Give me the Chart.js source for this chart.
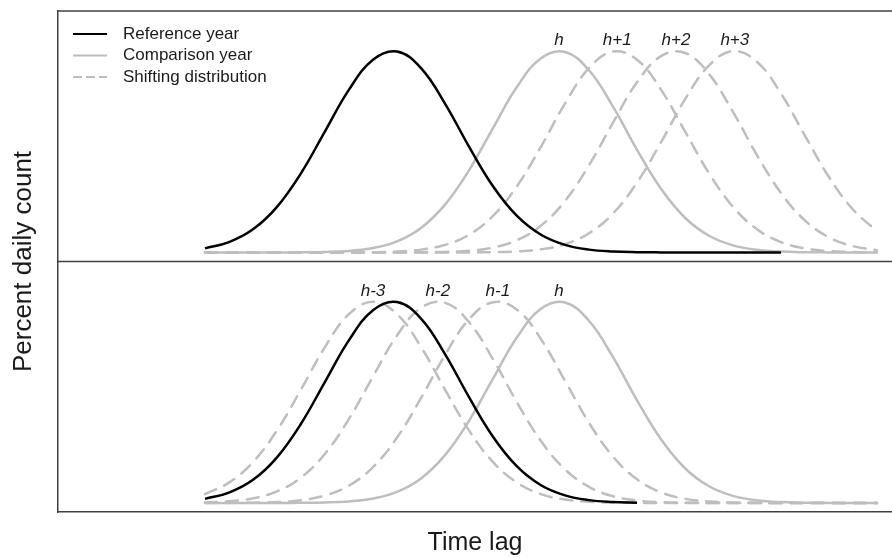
<!DOCTYPE html>
<html>
<head>
<meta charset="utf-8">
<title>Time lag</title>
<script src="https://cdn.jsdelivr.net/npm/chart.js@4.4.1/dist/chart.umd.min.js"></script>
<style>
  html, body { margin: 0; padding: 0; background: #fff; }
</style>
</head>
<body>
<canvas id="lagChart" width="892" height="558"></canvas>
<script>
// time lag grid (days) shared by every curve
const lagDays = [0, 4, 8, 12, 16, 20, 24, 28, 32, 36, 40, 44, 48, 52, 56, 60, 64, 68, 72, 76, 80, 84, 88, 92, 96, 100, 104, 108, 112];

// percent daily count
const referenceYear = [0.072, 0.183, 0.409, 0.807, 1.401, 2.141, 2.879, 3.409, 3.553, 3.260, 2.633, 1.872, 1.172, 0.646, 0.313, 0.134, 0.050, 0.017, 0.005, 0.001, 0, 0, 0, 0, 0];
const comparisonYear = [0, 0, 0, 0.001, 0.002, 0.008, 0.027, 0.077, 0.195, 0.433, 0.845, 1.453, 2.198, 2.929, 3.435, 3.546, 3.222, 2.578, 1.816, 1.126, 0.614, 0.295, 0.125, 0.046, 0.015, 0.004, 0.001, 0, 0];
const shiftMinus3 = [0.157, 0.359, 0.723, 1.284, 2.006, 2.759, 3.340, 3.560, 3.340, 2.759, 2.006, 1.284, 0.723, 0.359, 0.157, 0.060, 0.020, 0.006, 0.002, 0, 0, 0, 0, 0, 0, 0, 0, 0, 0];
const shiftMinus2 = [0.009, 0.029, 0.081, 0.204, 0.449, 0.871, 1.487, 2.237, 2.961, 3.450, 3.540, 3.197, 2.541, 1.778, 1.095, 0.594, 0.284, 0.119, 0.044, 0.014, 0.004, 0.001, 0, 0, 0, 0, 0, 0, 0];
const shiftMinus1 = [0, 0.001, 0.005, 0.016, 0.049, 0.131, 0.307, 0.635, 1.156, 1.853, 2.615, 3.248, 3.551, 3.418, 2.896, 2.160, 1.418, 0.820, 0.417, 0.187, 0.074, 0.026, 0.008, 0.002, 0, 0, 0, 0, 0];
const shiftPlus1 = [0, 0, 0, 0, 0, 0, 0.001, 0.005, 0.017, 0.050, 0.134, 0.313, 0.646, 1.172, 1.872, 2.633, 3.260, 3.553, 3.409, 2.879, 2.141, 1.401, 0.807, 0.409, 0.183, 0.072, 0.025, 0.008, 0.002];
const shiftPlus2 = [0, 0, 0, 0, 0, 0, 0, 0, 0.001, 0.003, 0.010, 0.031, 0.087, 0.217, 0.474, 0.911, 1.541, 2.295, 3.009, 3.472, 3.528, 3.156, 2.485, 1.722, 1.051, 0.565, 0.267, 0.111, 0.041];
const shiftPlus3 = [0, 0, 0, 0, 0, 0, 0, 0, 0, 0, 0, 0.001, 0.006, 0.019, 0.056, 0.146, 0.339, 0.689, 1.235, 1.948, 2.706, 3.307, 3.559, 3.371, 2.811, 2.063, 1.333, 0.758, 0.380];

// lower panel only shows the reference year up to day 72
const refBottomDays = 72;

// every distribution tops out at the same height
const peakPercent = 3.56;
const comparisonLabel = 'h';
const comparisonPeak = 59;
const topShiftLabels = ['h+1', 'h+2', 'h+3'];
const topShiftPeaks = [68.7, 78.5, 88.3];
const bottomShiftLabels = ['h-3', 'h-2', 'h-1'];
const bottomShiftPeaks = [28, 38.8, 48.8];

const legendLabels = ['Reference year', 'Comparison year', 'Shifting distribution'];

const FONT = '"Liberation Sans", Arial, Helvetica, sans-serif';
const TEXT = '#1a1a1a';
const FRAME = '#404040';
const GREY = '#bebebe';

const solidRef = { borderColor: '#000000', borderWidth: 2.5 };
const solidGrey = { borderColor: GREY, borderWidth: 2.5 };
const dashedGrey = { borderColor: GREY, borderWidth: 2.5, borderDash: [12, 9], borderCapStyle: 'round' };
const legendStyles = [
  { color: '#000000', dash: [] },
  { color: GREY, dash: [] },
  { color: GREY, dash: [9, 4] }
];

const toPoints = values => values.map((v, i) => ({ x: lagDays[i], y: v }));

const datasets = [
  { label: 'Reference year', data: toPoints(referenceYear), yAxisID: 'yTop', ...solidRef },
  { label: 'Reference year', data: toPoints(referenceYear).filter(p => p.x <= refBottomDays), yAxisID: 'yBottom', ...solidRef },
  { label: 'Comparison year', data: toPoints(comparisonYear), yAxisID: 'yTop', peakLabel: comparisonLabel, peakDay: comparisonPeak, ...solidGrey },
  { label: 'Comparison year', data: toPoints(comparisonYear), yAxisID: 'yBottom', peakLabel: comparisonLabel, peakDay: comparisonPeak, ...solidGrey }
];

[shiftPlus1, shiftPlus2, shiftPlus3].forEach((values, i) => {
  datasets.push({ label: 'Shifting distribution', data: toPoints(values), yAxisID: 'yTop',
    peakLabel: topShiftLabels[i], peakDay: topShiftPeaks[i], ...dashedGrey });
});
[shiftMinus3, shiftMinus2, shiftMinus1].forEach((values, i) => {
  datasets.push({ label: 'Shifting distribution', data: toPoints(values), yAxisID: 'yBottom',
    peakLabel: bottomShiftLabels[i], peakDay: bottomShiftPeaks[i], ...dashedGrey });
});

// outer top edge and the line between the two panels
const panelFrame = {
  id: 'panelFrame',
  afterDraw(chart) {
    const { ctx, chartArea, scales } = chart;
    ctx.save();
    ctx.strokeStyle = FRAME;
    ctx.lineWidth = 1.5;
    ctx.beginPath();
    ctx.moveTo(chartArea.left, chartArea.top);
    ctx.lineTo(chartArea.right, chartArea.top);
    ctx.moveTo(chartArea.left, scales.yTop.bottom);
    ctx.lineTo(chartArea.right, scales.yTop.bottom);
    ctx.stroke();
    ctx.restore();
  }
};

// italic h, h+1 ... above each curve's peak
const peakLabels = {
  id: 'peakLabels',
  afterDatasetsDraw(chart) {
    const { ctx, scales } = chart;
    ctx.save();
    ctx.font = 'italic 17px ' + FONT;
    ctx.fillStyle = TEXT;
    ctx.textAlign = 'center';
    ctx.textBaseline = 'alphabetic';
    chart.data.datasets.forEach(ds => {
      if (!ds.peakLabel) return;
      const x = scales.x.getPixelForValue(ds.peakDay);
      const y = scales[ds.yAxisID].getPixelForValue(peakPercent);
      ctx.fillText(ds.peakLabel, x, y - 6);
    });
    ctx.restore();
  }
};

// small legend in the upper left corner of the top panel
const insetLegend = {
  id: 'insetLegend',
  afterDraw(chart) {
    const { ctx, chartArea } = chart;
    ctx.save();
    ctx.font = '17px ' + FONT;
    ctx.textBaseline = 'middle';
    ctx.textAlign = 'left';
    legendLabels.forEach((label, i) => {
      const y = chartArea.top + 23 + i * 21.5;
      const x = chartArea.left + 15;
      ctx.strokeStyle = legendStyles[i].color;
      ctx.lineWidth = 2;
      ctx.setLineDash(legendStyles[i].dash);
      ctx.beginPath();
      ctx.moveTo(x, y);
      ctx.lineTo(x + 34, y);
      ctx.stroke();
      ctx.setLineDash([]);
      ctx.fillStyle = TEXT;
      ctx.fillText(label, x + 50, y);
    });
    ctx.restore();
  }
};

const panelAxis = weight => ({
  type: 'linear',
  position: 'left',
  stack: 'panels',
  stackWeight: 1,
  weight: weight,
  min: -0.16,
  max: 4.27,
  ticks: { display: false },
  grid: { display: false, drawTicks: false },
  border: { display: true, color: FRAME, width: 1.5 }
});

Chart.defaults.font.family = FONT;

const ctx = document.getElementById('lagChart').getContext('2d');

new Chart(ctx, {
  type: 'line',
  data: { datasets: datasets },
  options: {
    responsive: false,
    animation: false,
    events: [],
    layout: { padding: { top: 11, right: 0, bottom: 0, left: 0 } },
    elements: {
      point: { radius: 0 },
      line: { tension: 0.4, fill: false }
    },
    plugins: {
      legend: { display: false },
      tooltip: { enabled: false }
    },
    scales: {
      x: {
        type: 'linear',
        position: 'bottom',
        min: -24.5,
        max: 114.5,
        ticks: { display: false },
        grid: { display: false, drawTicks: false },
        border: { display: true, color: FRAME, width: 1.5 },
        title: { display: true, text: 'Time lag', color: TEXT, font: { size: 25 }, padding: { top: 16, bottom: 0 } }
      },
      yLabel: {
        type: 'linear',
        position: 'left',
        weight: 10,
        min: 0,
        max: 1,
        ticks: { display: false },
        grid: { display: false, drawTicks: false },
        border: { display: false },
        title: { display: true, text: 'Percent daily count', color: TEXT, font: { size: 26 }, padding: { top: 8.4, bottom: 18.4 } }
      },
      yTop: panelAxis(2),
      yBottom: panelAxis(1)
    }
  },
  plugins: [panelFrame, peakLabels, insetLegend]
});
</script>
</body>
</html>
